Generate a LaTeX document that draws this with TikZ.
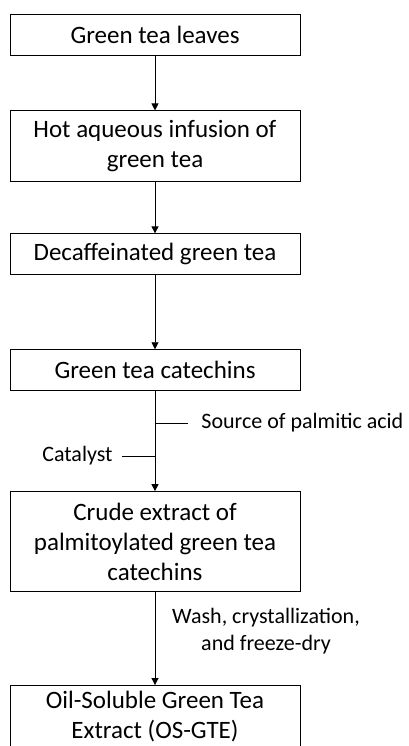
\documentclass[tikz,border=0pt]{standalone}
\usepackage{fontspec}
\setmainfont{Carlito}
\usetikzlibrary{arrows.meta,positioning}

\begin{document}
\begin{tikzpicture}[
    x=1pt, y=1pt,
    box/.style={rectangle, draw, line width=0.9pt, minimum width=290pt, minimum height=41pt, align=center, inner sep=2pt, font=\fontsize{25}{30}\selectfont},
    arrow/.style={-{Triangle[width=7pt,length=7pt]}, line width=0.9pt},
    note/.style={align=center, inner sep=0pt, font=\fontsize{22}{27}\selectfont}
]
\useasboundingbox (0,0) rectangle (408,-746);

% process steps
\node[box] (leaves) at (155,-34.5) {Green tea leaves};
\node[box, minimum height=71pt, below=55pt of leaves] (infusion) {Hot aqueous infusion of\\green tea};
\node[box, below=51pt of infusion] (decaf) {Decaffeinated green tea};
\node[box, below=74pt of decaf] (catechins) {Green tea catechins};
\node[box, minimum height=100pt, below=100pt of catechins] (crude) {Crude extract of\\palmitoylated green tea\\catechins};
\node[box, minimum height=100pt, below=93pt of crude, text depth=41pt] (osgte) {Oil-Soluble Green Tea\\Extract (OS-GTE)};

\draw[arrow] (leaves) -- (infusion);
\draw[arrow] (infusion) -- (decaf);
\draw[arrow] (decaf) -- (catechins);
\draw[arrow] (catechins) -- (crude);
\draw[arrow] (crude) -- (osgte);

% reagents
\coordinate (srcpt) at (155,-423);
\coordinate (srcend) at (188,-423);
\coordinate (catpt) at (155,-456);
\coordinate (catend) at (122,-456);
\draw[line width=0.9pt] (srcpt) -- (srcend) node[note, right=13pt] (source) {Source of palmitic acid};
\draw[line width=0.9pt] (catpt) -- (catend) node[note, left=9pt] (catalyst) {Catalyst};
\node[note] (wash) at (266,-631) {Wash, crystallization,\\and freeze-dry};

\end{tikzpicture}
\end{document}
